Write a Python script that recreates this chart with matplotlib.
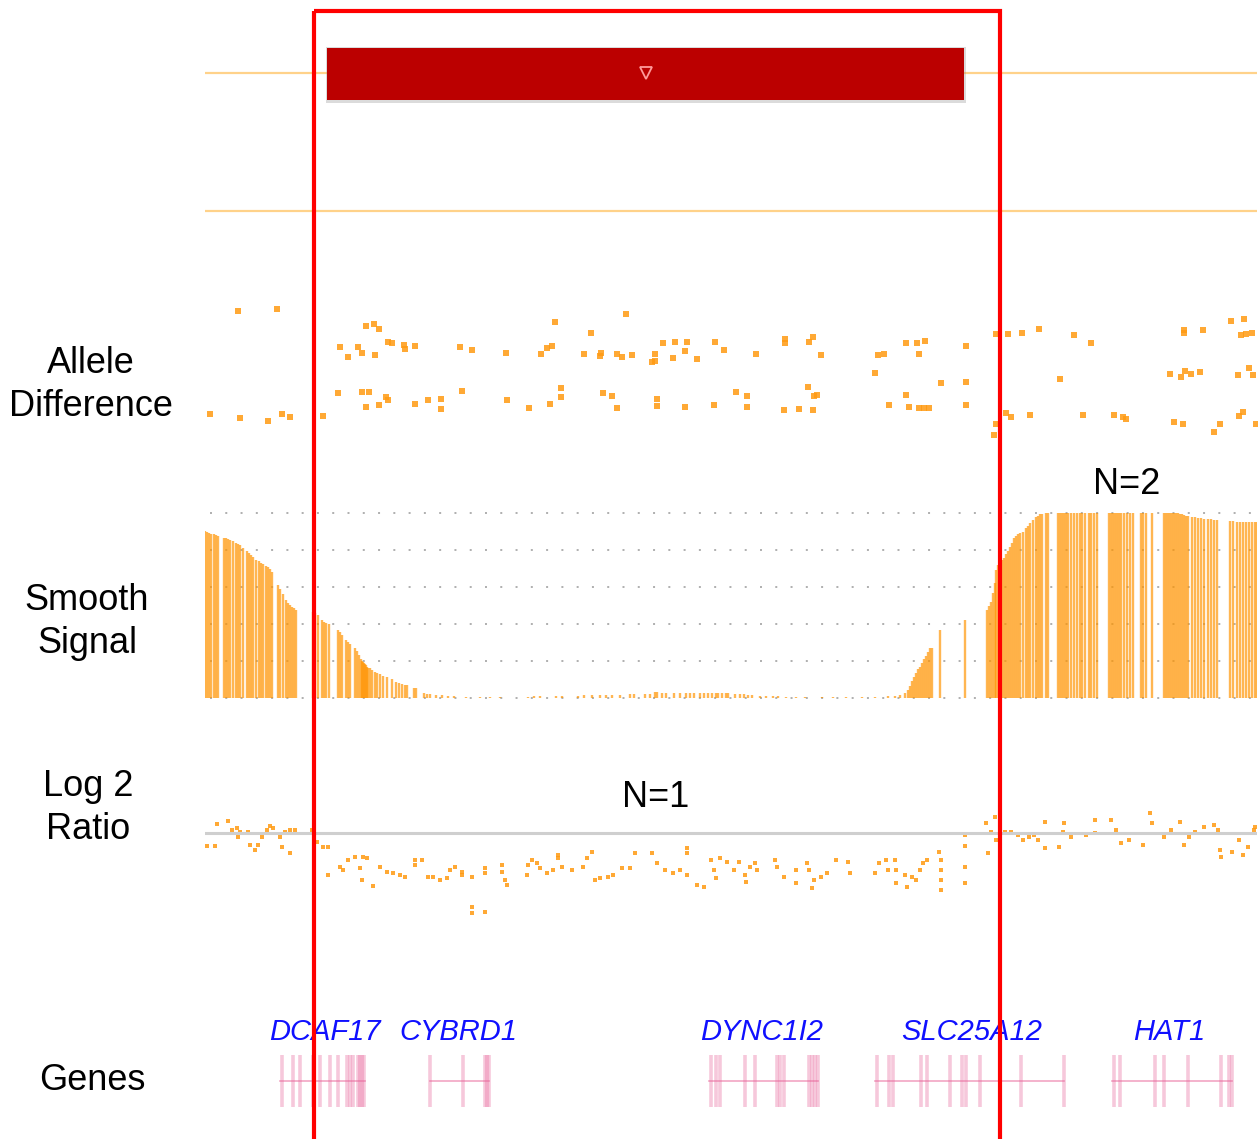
import matplotlib
matplotlib.use("Agg")
import matplotlib.pyplot as plt
from matplotlib.patches import Rectangle
import numpy as np

plt.rcParams['font.family'] = ['Liberation Sans', 'DejaVu Sans']

# ---- data (positions along the window, same units for every track) ----
x_start, x_end = 205, 1257
cnv_start, cnv_end = 327, 964          # called deletion segment
highlight_start, highlight_end = 314, 1000

# allele difference (SNP position, value)
allele_pos = [238, 277, 210, 240, 268, 282, 290, 323, 340, 348, 358, 362, 366, 374, 379, 375,
              388, 392, 404, 405, 415, 338, 362, 369, 366, 379, 386, 388, 415, 428, 441, 441,
              460, 472, 462, 506, 507, 529, 541, 547, 552, 555, 550, 561, 561, 591, 584, 600,
              601, 617, 622, 632, 626, 603, 612, 617, 652, 655, 655, 663, 675, 687, 685, 673,
              697, 657, 657, 685, 715, 724, 756, 785, 785, 809, 813, 821, 736, 747, 747, 714,
              784, 799, 813, 808, 814, 817, 878, 884, 875, 906, 917, 925, 919, 966, 966, 966,
              941, 906, 889, 909, 919, 924, 929, 996, 1008, 1022, 1039, 1074, 1091, 1060, 996, 994,
              1006, 1011, 1030, 1083, 1114, 1123, 1126, 1184, 1184, 1203, 1231, 1244, 1241, 1246, 1252, 1170,
              1181, 1185, 1191, 1200, 1238, 1249, 1253, 1174, 1183, 1214, 1220, 1239, 1243, 1256]
allele_val = [1.07, 1.10, -0.65, -0.72, -0.77, -0.65, -0.70, -0.68, 0.47, 0.30, 0.47, 0.37, 0.82, 0.85, 0.77, 0.33,
              0.55, 0.53, 0.50, 0.43, 0.48, -0.30, -0.28, -0.28, -0.53, -0.50, -0.37, -0.42, -0.48, -0.42, -0.40, -0.57,
              0.47, 0.42, -0.27, 0.37, -0.42, -0.55, 0.35, 0.45, 0.48, 0.88, -0.48, -0.22, -0.37, 0.70, 0.35, 0.32,
              0.37, 0.35, 0.30, 0.33, 1.02, -0.30, -0.35, -0.55, 0.22, 0.23, 0.35, 0.53, 0.55, 0.55, 0.40, 0.28,
              0.27, -0.40, -0.52, -0.53, 0.55, 0.42, 0.35, 0.60, 0.53, 0.55, 0.63, 0.33, -0.28, -0.35, -0.53, -0.50,
              -0.58, -0.57, -0.58, -0.20, -0.35, -0.33, 0.33, 0.35, 0.03, 0.53, 0.53, 0.57, 0.35, 0.48, -0.12, -0.50,
              -0.13, -0.33, -0.50, -0.53, -0.55, -0.55, -0.55, 0.68, 0.68, 0.70, 0.77, 0.67, 0.53, -0.07, -0.82, -1.00,
              -0.63, -0.70, -0.67, -0.67, -0.67, -0.70, -0.73, 0.75, 0.70, 0.75, 0.90, 0.93, 0.67, 0.68, 0.70, 0.02,
              -0.03, 0.07, 0.02, 0.05, 0.00, 0.12, 0.00, -0.78, -0.82, -0.95, -0.82, -0.68, -0.62, -0.82]

# smooth signal (SNP position, smoothed copy signal)
signal_pos = [205, 207, 209, 211, 214, 216, 218, 224, 226, 228, 230, 233, 236, 238, 240, 243,
              247, 249, 251, 253, 256, 259, 261, 263, 266, 268, 270, 272, 278, 280, 283, 286,
              288, 290, 292, 294, 296,
              313, 315, 318, 322, 324, 326, 329, 338, 340, 342, 346, 348, 350, 355, 357, 359,
              361, 362, 363, 364, 365, 366, 367, 368, 370, 372, 375, 377, 380, 383, 387, 392,
              396, 399, 402, 405, 407, 414, 416, 424, 427, 430, 436, 442, 448, 454, 466, 480,
              490, 500, 528, 534, 540, 556, 562, 578, 584, 592, 600, 606, 612, 620, 630, 634,
              645, 650, 655, 657, 662, 666, 674, 680, 686, 690, 694, 700, 704, 708, 712, 716,
              718, 722, 726, 728, 735, 740, 744, 748, 752, 760, 766, 773, 778, 786, 796, 805,
              822, 833, 846, 862, 875, 888, 895, 900, 905, 908, 910, 912, 914, 916, 918, 920,
              922, 924, 926, 928, 930, 932, 940, 965, 987, 989, 991, 993, 995, 996,
              998, 1000, 1002, 1004, 1006, 1008, 1010, 1012, 1014, 1016, 1018, 1020, 1023, 1026, 1028, 1030,
              1033, 1036, 1038, 1040, 1042, 1046, 1048, 1058, 1060, 1062, 1064, 1066, 1068, 1071, 1074, 1077,
              1080, 1082, 1085, 1089, 1091, 1094, 1097, 1109, 1111, 1113, 1115, 1117, 1119, 1121, 1124, 1127,
              1130, 1133, 1141, 1143, 1146, 1152, 1164, 1166, 1168, 1170, 1172, 1174, 1176, 1178, 1180, 1182,
              1184, 1186, 1188, 1192, 1195, 1198, 1201, 1204, 1208, 1211, 1214, 1217, 1230, 1233, 1237, 1240,
              1243, 1246, 1249, 1252, 1255, 1257]
signal_val = [4.50, 4.48, 4.46, 4.44, 4.42, 4.40, 4.37, 4.33, 4.32, 4.30, 4.28, 4.24, 4.20, 4.17, 4.13, 4.06,
              3.97, 3.92, 3.86, 3.80, 3.74, 3.69, 3.66, 3.62, 3.57, 3.53, 3.48, 3.40, 3.05, 2.95, 2.80, 2.66,
              2.58, 2.52, 2.47, 2.42, 2.38,
              2.32, 2.30, 2.25, 2.10, 2.06, 2.03, 2.00, 1.84, 1.78, 1.70, 1.56, 1.50, 1.45, 1.36, 1.28, 1.16,
              1.06, 1.00, 0.97, 0.95, 0.92, 0.88, 0.85, 0.82, 0.80, 0.76, 0.70, 0.68, 0.64, 0.60, 0.57, 0.50,
              0.44, 0.41, 0.38, 0.36, 0.35, 0.28, 0.26, 0.14, 0.11, 0.10, 0.08, 0.07, 0.06, 0.05, 0.04, 0.04,
              0.04, 0.04, 0.04, 0.05, 0.05, 0.05, 0.05, 0.06, 0.07, 0.08, 0.08, 0.09, 0.09, 0.09, 0.10, 0.10,
              0.12, 0.12, 0.15, 0.15, 0.14, 0.13, 0.14, 0.13, 0.14, 0.13, 0.14, 0.13, 0.13, 0.13, 0.13, 0.14,
              0.13, 0.13, 0.13, 0.13, 0.12, 0.12, 0.10, 0.08, 0.07, 0.06, 0.05, 0.05, 0.05, 0.04, 0.04, 0.04,
              0.04, 0.04, 0.04, 0.04, 0.04, 0.05, 0.06, 0.08, 0.14, 0.22, 0.33, 0.45, 0.57, 0.68, 0.78, 0.84,
              0.95, 1.05, 1.14, 1.24, 1.35, 1.36, 1.84, 2.11, 2.38, 2.48, 2.59, 2.85, 3.10, 3.46,
              3.60, 3.68, 3.74, 3.78, 3.88, 3.98, 4.08, 4.18, 4.32, 4.38, 4.42, 4.46, 4.49, 4.60, 4.66, 4.73,
              4.82, 4.90, 4.93, 4.96, 4.98, 5.00, 5.00, 5.00, 5.00, 5.00, 5.00, 5.00, 5.00, 5.00, 5.00, 5.00,
              5.00, 5.00, 5.00, 5.00, 5.00, 5.00, 5.00, 5.00, 5.00, 5.00, 5.00, 5.00, 5.00, 5.00, 5.00, 5.00,
              5.00, 5.00, 5.00, 5.00, 5.00, 5.00, 5.00, 5.00, 5.00, 5.00, 5.00, 5.00, 5.00, 5.00, 4.98, 4.96,
              4.94, 4.92, 4.91, 4.89, 4.88, 4.87, 4.86, 4.85, 4.84, 4.83, 4.82, 4.82, 4.78, 4.78, 4.77, 4.77,
              4.76, 4.76, 4.76, 4.76, 4.76, 4.76]
signal_grid = [0, 1, 2, 3, 4, 5]

# log2 ratio (probe position, log2 ratio)
log2_pos = [207, 215, 217, 228, 232, 237, 240, 238, 248, 250, 255, 258, 262, 267, 270, 273,
            280, 282, 285, 290, 290, 295, 312, 317, 323, 328,
            328, 340, 343, 348, 355, 360, 363, 367, 362, 373, 380, 387, 393, 400, 405, 415,
            415, 422, 428, 433, 440, 447, 450, 455, 462, 462, 472, 472, 472, 485, 485, 485,
            502, 502, 505, 507, 527, 528, 532, 537, 540, 547, 553, 558, 558, 562, 572, 583,
            587, 592, 595, 600, 608, 613, 622, 630, 635, 652, 657, 665, 673, 680, 687, 687,
            687, 697, 704, 711, 714, 716, 720, 727, 734, 739, 745, 746, 750, 755, 757, 775,
            777, 784, 796, 796, 807, 809, 814, 812, 821, 827, 836, 848, 850, 875, 879, 886,
            888, 895, 896, 896, 905, 907, 912, 916, 920, 923, 927, 939, 941, 941, 941, 941,
            965, 965, 965, 965,
            986, 988, 991, 995, 996, 1005, 1011, 1018, 1023, 1029, 1034, 1038, 1045, 1045, 1059, 1063,
            1064, 1071, 1086, 1095, 1095, 1111, 1116, 1121, 1129, 1143, 1150, 1152, 1164, 1171, 1180, 1184,
            1189, 1195, 1204, 1214, 1218, 1220, 1221, 1232, 1239, 1243, 1248, 1254, 1255]
log2_val = [-0.33, -0.33, 0.23, 0.30, 0.08, 0.13, 0.03, -0.10, 0.03, -0.30, -0.43, -0.30, -0.10, 0.08, 0.18, 0.13,
            -0.10, -0.35, 0.03, -0.50, 0.08, 0.08, 0.08, -0.23, -0.35, -0.35,
            -1.05, -0.85, -0.93, -0.68, -0.60, -0.88, -0.60, -0.63, -1.18, -1.33, -0.85, -0.98, -1.00, -1.05, -1.10, -0.68,
            -0.80, -0.68, -1.10, -1.10, -1.18, -1.13, -0.93, -0.85, -0.98, -1.05, -1.10, -1.85, -2.00, -1.98, -0.88, -1.00,
            -0.80, -0.98, -1.18, -1.30, -1.05, -0.80, -0.68, -0.75, -0.88, -1.00, -0.93, -0.55, -0.63, -0.85, -0.93, -0.85,
            -0.63, -0.48, -1.18, -1.13, -1.10, -1.05, -0.88, -0.88, -0.50, -0.50, -0.75, -0.93, -1.00, -0.93, -1.05, -0.38,
            -0.50, -1.30, -1.35, -0.68, -0.93, -1.13, -0.63, -0.73, -0.93, -0.73, -1.05, -1.23, -0.85, -0.75, -0.93, -0.68,
            -0.85, -1.10, -0.93, -1.25, -0.75, -0.93, -1.18, -1.38, -1.10, -1.00, -0.68, -0.73, -1.00, -1.00, -0.75, -0.68,
            -0.93, -0.68, -0.93, -1.25, -1.05, -1.35, -1.10, -1.18, -0.93, -0.75, -0.68, -0.48, -0.68, -0.93, -1.18, -1.43,
            -0.05, -0.33, -0.85, -1.25,
            0.25, -0.50, 0.03, 0.40, -0.18, 0.03, 0.03, -0.05, -0.18, -0.10, -0.05, -0.18, 0.28, -0.38, -0.35, 0.03,
            0.25, -0.10, -0.05, 0.33, 0.00, 0.33, 0.08, -0.25, -0.18, -0.30, 0.50, 0.25, -0.10, 0.08, 0.28, -0.30,
            -0.10, 0.03, 0.15, 0.20, 0.08, -0.43, -0.60, -0.48, -0.18, -0.55, -0.35, 0.08, 0.15]

# genes: name, label centre, start, end, exon positions
gene_names = ['DCAF17', 'CYBRD1', 'DYNC1I2', 'SLC25A12', 'HAT1']
gene_label_x = [325, 458, 762, 972, 1169]
gene_start = [280, 430, 709, 875, 1112]
gene_end = [365, 489, 818, 1064, 1232]
gene_exons = [[282, 293, 300, 313, 320, 330, 338, 347, 350, 353, 358, 360, 362, 364],
              [430, 463, 485, 487, 489],
              [711, 716, 720, 745, 755, 777, 780, 784, 809, 812, 815, 818],
              [877, 889, 893, 921, 927, 950, 962, 966, 980, 1021, 1064],
              [1114, 1120, 1155, 1164, 1188, 1221, 1229, 1232]]

# ---- figure ----
W, H = 1259, 1139
fig = plt.figure(figsize=(W / 100, H / 100), dpi=100)


def track(y0, y1):
    # axes placed by pixel rows, sharing the same x window
    ax = fig.add_axes([x_start / W, 1 - y1 / H, (x_end - x_start) / W, (y1 - y0) / H])
    ax.set_xlim(x_start, x_end)
    ax.axis('off')
    return ax


orange = '#ff9a12'

# top track: segment call
ax_top = track(0, 240)
ax_top.set_ylim(240, 0)
ax_top.axhline(73, color='#ffd28a', lw=1.6, zorder=0)
ax_top.axhline(211, color='#ffd28a', lw=1.6, zorder=0)
ax_top.add_patch(Rectangle((cnv_start - 1.5, 46.5), cnv_end - cnv_start + 3, 56,
                           facecolor='#888888', alpha=0.3, edgecolor='none', zorder=1))
ax_top.add_patch(Rectangle((cnv_start, 48), cnv_end - cnv_start, 52,
                           facecolor='#bb0000', edgecolor='none', zorder=2))
ax_top.plot([(cnv_start + cnv_end) / 2], [73], marker='v', ms=8, mfc='none',
            mec='#ff9a9a', mew=1.3, zorder=3)

# allele difference
ax_al = track(280, 460)
ax_al.set_ylim(-1.417, 1.583)
ax_al.scatter(allele_pos, allele_val, s=13, marker='s', color=orange, alpha=0.85, lw=0)

# smooth signal
ax_sig = track(480, 720)
ax_sig.set_ylim(-0.595, 5.892)
for g in signal_grid:
    ax_sig.plot([210, x_end], [g, g], color='#9a9a9a', lw=1.1, ls=(0, (1.3, 8.7)))
ax_sig.vlines(signal_pos, 0, signal_val, color='#ff9400', lw=1.7, alpha=0.68)
ax_sig.text(1127, 5.76, 'N=2', ha='center', va='center', fontsize=26)

# log2 ratio
ax_lr = track(760, 960)
ax_lr.set_ylim(-3.175, 1.825)
ax_lr.axhline(0, color='#cfcfcf', lw=2.2)
ax_lr.scatter(log2_pos, log2_val, s=10, marker='s', color=orange, alpha=0.85, lw=0)
ax_lr.text(656, 0.88, 'N=1', ha='center', va='center', fontsize=26)

# genes
ax_g = track(1050, 1112)
ax_g.set_ylim(0, 1)
for name, lx, s, e, ex in zip(gene_names, gene_label_x, gene_start, gene_end, gene_exons):
    ax_g.plot([s, e], [0.5, 0.5], color='#f2a6c4', lw=1.2)
    ax_g.vlines(ex, 0.08, 0.92, color='#e8639a', lw=2.6, alpha=0.35)
    ax_g.text(lx, 1.29, name, ha='center', va='center', color='#1010ff',
              fontsize=21, style='italic', clip_on=False)

# track labels
labels = [('Allele\nDifference', 91, 385), ('Smooth\nSignal', 87, 622),
          ('Log 2\nRatio', 88, 808), ('Genes', 92, 1080)]
for txt, lx, ly in labels:
    fig.text(lx / W, 1 - ly / H, txt, ha='center', va='center',
             multialignment='center', fontsize=26, linespacing=1.3)

# highlighted region
ax_over = fig.add_axes([0, 0, 1, 1])
ax_over.set_xlim(0, W)
ax_over.set_ylim(H, 0)
ax_over.axis('off')
ax_over.add_patch(Rectangle((highlight_start, 11), highlight_end - highlight_start, 1200,
                            fill=False, edgecolor='#ff0000', lw=3))

fig.savefig('out.png', dpi=100)
plt.close(fig)
